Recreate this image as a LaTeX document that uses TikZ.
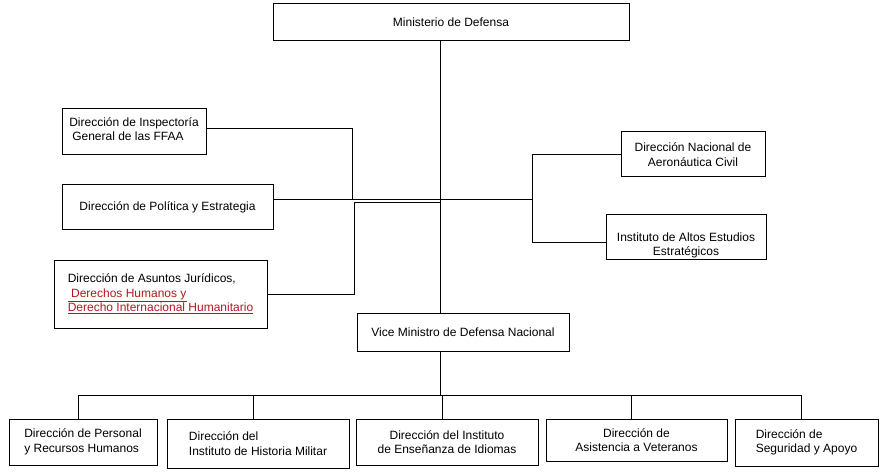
\documentclass[tikz,border=0pt]{standalone}
\usepackage{fontspec}
\setmainfont{Liberation Sans}
\definecolor{linkred}{RGB}{178,24,36}
\newcommand{\redlink}[1]{{\color{linkred}\underline{#1}}}

\begin{document}
\begin{tikzpicture}[x=1pt,y=-1pt,line width=1pt,-]
    \tikzstyle{unit}=[rectangle,draw=black,fill=white,inner sep=0pt,align=left,font=\fontsize{12}{14.5}\selectfont]
    \useasboundingbox (0,0) rectangle (886,473);

    % top and deputy minister
    \node[unit,minimum width=356pt,minimum height=37pt] (MinDef) at (451,22.5) {Ministerio de Defensa};
    \node[unit,minimum width=212pt,minimum height=38pt] (Vice) at (463,332) {Vice Ministro de Defensa Nacional};

    % left branch
    \node[unit,minimum width=144pt,minimum height=46pt] (Insp) at (134,132) {Dirección de Inspectoría\\\hspace*{3pt}General de las FFAA\rule[-6pt]{0pt}{6pt}};
    \node[unit,minimum width=211pt,minimum height=45pt] (Pol) at (167.5,207.5) {Dirección de Política y Estrategia};
    \node[unit,minimum width=213pt,minimum height=68pt] (Asun) at (160.5,294) {Dirección de Asuntos Jurídicos,\\\redlink{~Derechos Humanos y}\\\redlink{Derecho Internacional Humanitario}};

    % right branch
    \node[unit,align=center,minimum width=144pt,minimum height=45pt] (Aero) at (693,154.5) {Dirección Nacional de\\Aeronáutica Civil};
    \node[unit,align=center,minimum width=160pt,minimum height=44pt] (Inst) at (686,237) {\rule{0pt}{25pt}Instituto de Altos Estudios\\Estratégicos};

    % bottom row
    \node[unit,minimum width=148pt,minimum height=46pt] (Pers) at (83,442) {Dirección de Personal\\y Recursos Humanos};
    \node[unit,minimum width=182pt,minimum height=49pt] (Hist) at (258,443.5) {Dirección del\\Instituto de Historia Militar};
    \node[unit,align=center,minimum width=182pt,minimum height=46pt] (Idio) at (447,442) {Dirección del Instituto\\de Enseñanza de Idiomas};
    \node[unit,align=center,minimum width=181pt,minimum height=42pt] (Vet) at (636.5,440) {Dirección de\\Asistencia a Veteranos};
    \node[unit,minimum width=143pt,minimum height=47pt] (Seg) at (806.5,442.5) {Dirección de\\Seguridad y Apoyo};

    \coordinate (Spine) at (440,200);
    \coordinate (JoinL) at (352,200);
    \coordinate (JoinA) at (354,203);
    \coordinate (JoinR) at (532,200);
    \coordinate (Bus) at (440,395);

    \draw (Spine |- MinDef.south) -- (Spine |- Vice.north);
    \draw ([yshift=3pt]Insp.east) -| (JoinL) -- (Spine);
    \draw (Pol.east |- JoinL) -- (JoinL);
    \draw (Asun.east) -| (JoinA) -- (JoinA -| Spine);
    \draw (Spine) -- (JoinR);
    \draw (Aero.west) -| (JoinR);
    \draw ([yshift=-5pt]Inst.west) -| (JoinR);

    \draw (Bus |- Vice.south) -- (Bus);
    \foreach \unitname in {Pers,Hist,Idio,Vet,Seg}
        \draw (Bus) -| ([xshift=-5pt]\unitname.north);
\end{tikzpicture}
\end{document}
